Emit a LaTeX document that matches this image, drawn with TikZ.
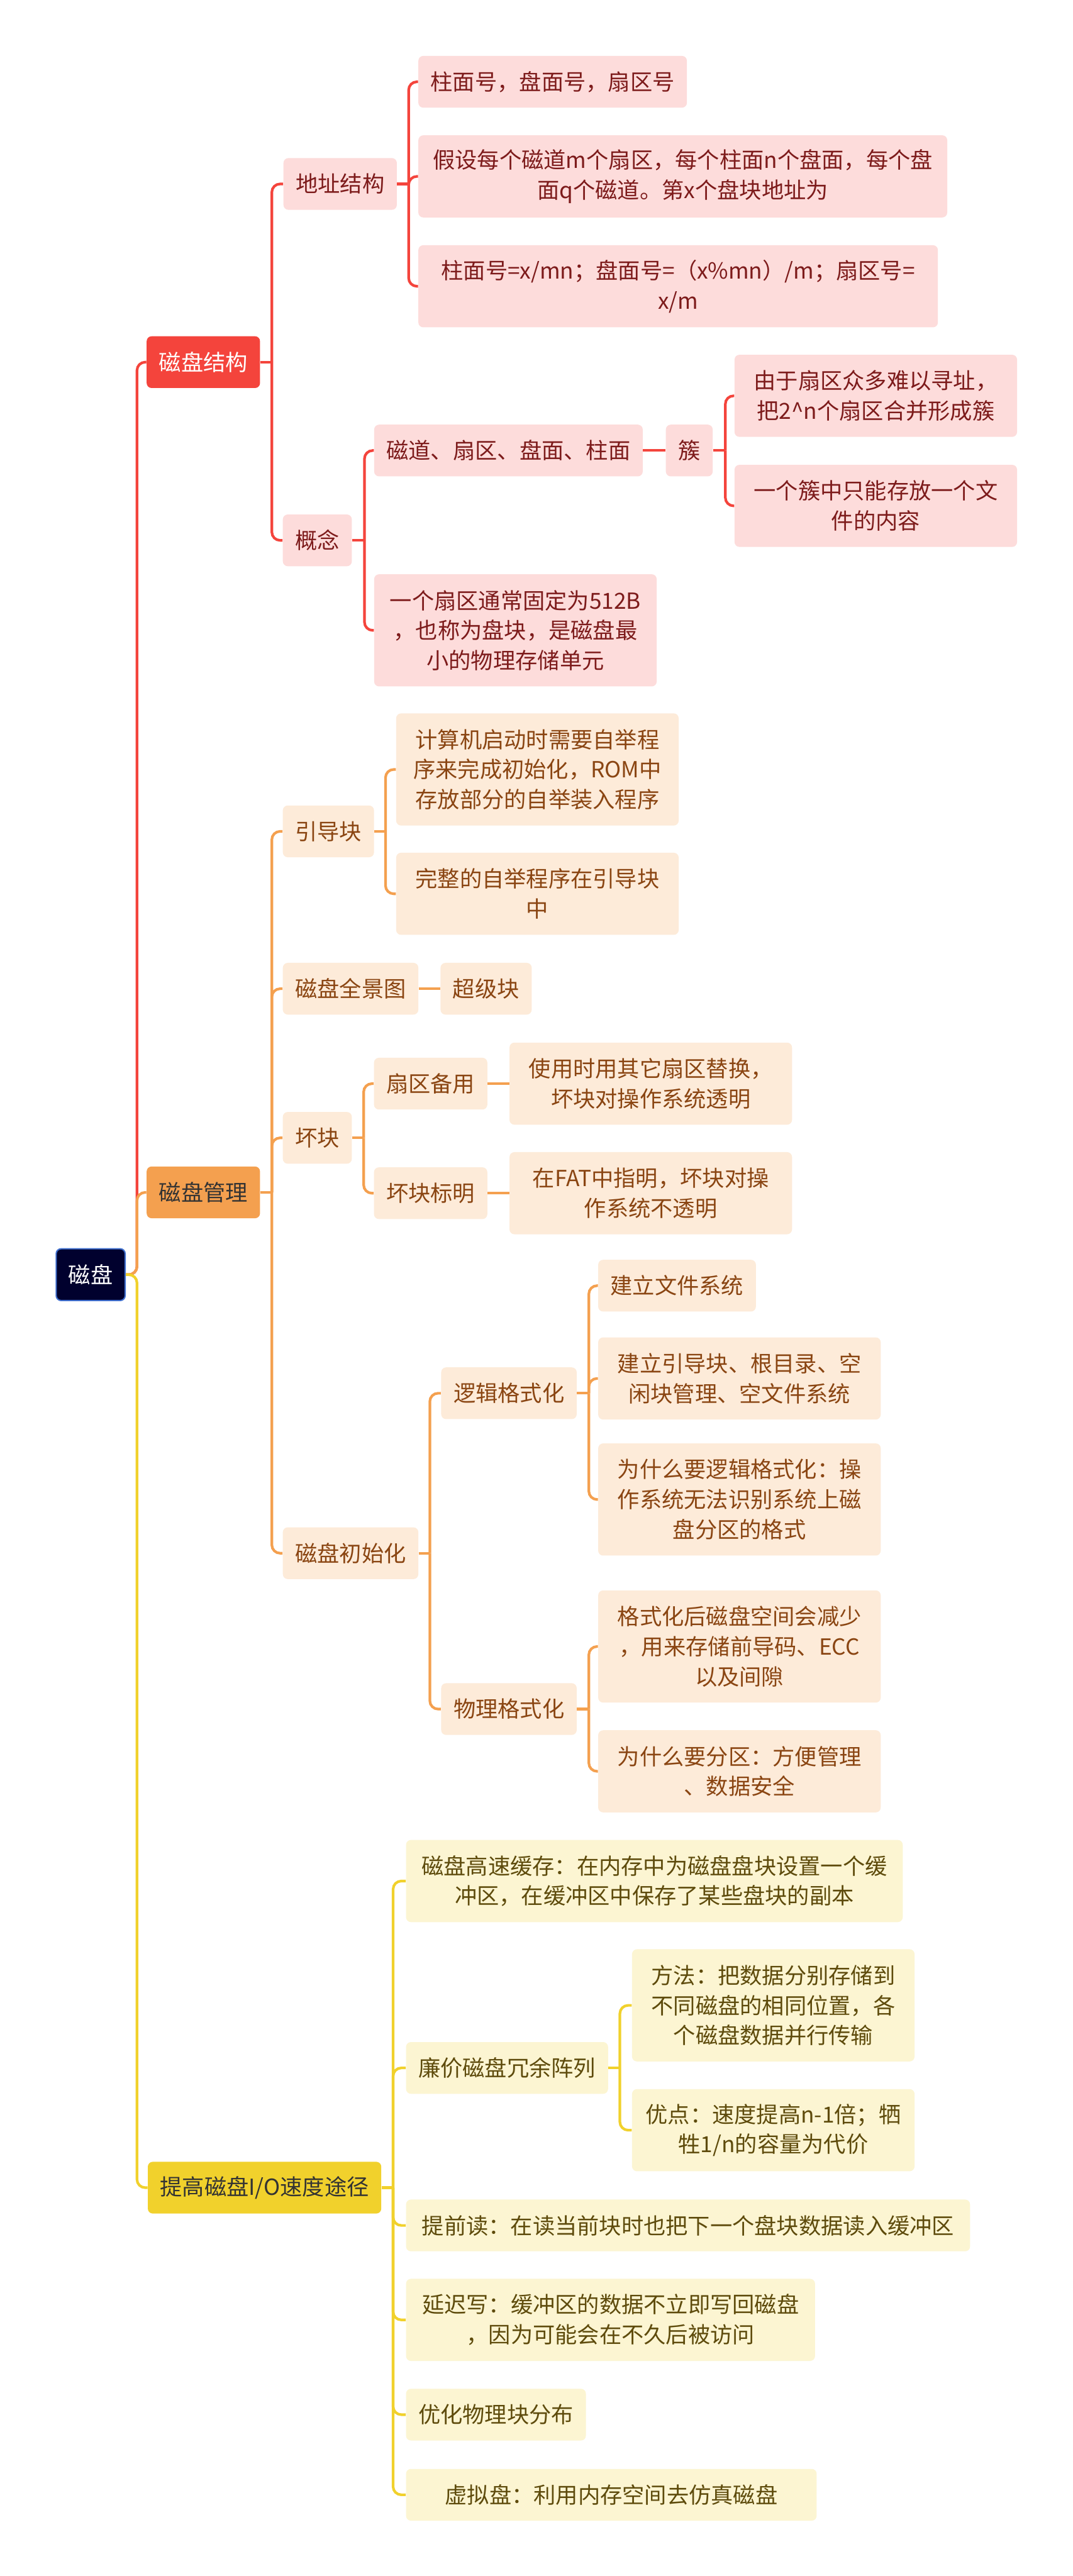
\documentclass[tikz,border=0pt]{standalone}
\usepackage{fontspec}
\setmainfont{Noto Sans CJK SC}
\definecolor{navyc}{HTML}{01012E}
\definecolor{rootblue}{HTML}{3F6FCF}
\definecolor{redc}{HTML}{F4443C}
\definecolor{orangec}{HTML}{F4A04F}
\definecolor{yellowc}{HTML}{F1D12C}
\definecolor{pinkc}{HTML}{FDDCDB}
\definecolor{peachc}{HTML}{FDEBD9}
\definecolor{creamc}{HTML}{FCF5D2}
\definecolor{redtxt}{HTML}{7D1B1B}
\definecolor{orangetxt}{HTML}{8A4512}
\definecolor{yellowtxt}{HTML}{5E4B0C}
\definecolor{darktxt}{HTML}{333333}
\begin{document}
\begin{tikzpicture}[x=1pt, y=-1pt, font=\fontsize{13.5}{18.3}\selectfont,
  box/.style={rounded corners=3pt, inner xsep=7.5pt, inner ysep=2pt,
    minimum height=31.5pt, align=center, anchor=west},
  twoline/.style={minimum height=50pt},
  threeline/.style={minimum height=68.3pt},
  rootbox/.style={box, fill=navyc, draw=rootblue, line width=0.8pt, text=white},
  mainred/.style={box, fill=redc, text=white},
  mainorange/.style={box, fill=orangec, text=darktxt},
  mainyellow/.style={box, fill=yellowc, text=darktxt},
  subred/.style={box, fill=pinkc, text=redtxt},
  suborange/.style={box, fill=peachc, text=orangetxt},
  subyellow/.style={box, fill=creamc, text=yellowtxt},
  ln/.style={line width=1.6pt, rounded corners=5pt},
  redln/.style={ln, draw=redc},
  orangeln/.style={ln, draw=orangec},
  yellowln/.style={ln, draw=yellowc}]
  \fill[white] (0,0) rectangle (653,1568.46);
  \useasboundingbox (0,0) rectangle (653,1568.46);

  % root and main branches
  \node[rootbox] (rt) at (33.8,776.1) {磁盘};
  \node[mainred] (st) at (89.1,220.5) {磁盘结构};
  \node[mainorange] (mg) at (89.1,726) {磁盘管理};
  \node[mainyellow] (io) at (89.8,1332) {提高磁盘I/O速度途径};

  % disk structure
  \node[subred] (addr) at (172.4,112) {地址结构};
  \node[subred] (conc) at (172,329) {概念};
  \node[subred] (a1) at (254.5,49.8) {柱面号，盘面号，扇区号};
  \node[subred, twoline, minimum width=322pt] (a2) at (254.5,107.4)
    {假设每个磁道m个扇区，每个柱面n个盘面，每个盘\\面q个磁道。第x个盘块地址为};
  \node[subred, twoline, minimum width=316.3pt] (a3) at (254.5,174.3)
    {柱面号=x/mn；盘面号=（x\%mn）/m；扇区号=\\x/m};
  \node[subred] (c1) at (227.6,274.3) {磁道、扇区、盘面、柱面};
  \node[subred, threeline, minimum width=172pt] (c2) at (227.6,383.8)
    {一个扇区通常固定为512B\\，也称为盘块，是磁盘最\\小的物理存储单元};
  \node[subred] (cu) at (405.2,274.3) {簇};
  \node[subred, twoline, minimum width=172pt] (u1) at (447,241)
    {由于扇区众多难以寻址，\\把2\textasciicircum{}n个扇区合并形成簇};
  \node[subred, twoline, minimum width=172pt] (u2) at (447,308)
    {一个簇中只能存放一个文\\件的内容};

  % disk management
  \node[suborange] (boot) at (172,506.2) {引导块};
  \node[suborange] (pano) at (172,602) {磁盘全景图};
  \node[suborange] (bad) at (172,692.8) {坏块};
  \node[suborange] (init) at (172,945.7) {磁盘初始化};
  \node[suborange, threeline, minimum width=172pt] (b1) at (241,468.5)
    {计算机启动时需要自举程\\序来完成初始化，ROM中\\存放部分的自举装入程序};
  \node[suborange, twoline, minimum width=172pt] (b2) at (241,544.2)
    {完整的自举程序在引导块\\中};
  \node[suborange] (sup) at (268,602) {超级块};
  \node[suborange] (bk1) at (227.5,659.8) {扇区备用};
  \node[suborange] (bk2) at (227.5,726.5) {坏块标明};
  \node[suborange, twoline, minimum width=172pt] (bk1a) at (310,659.8)
    {使用时用其它扇区替换，\\坏块对操作系统透明};
  \node[suborange, twoline, minimum width=172pt] (bk2a) at (310,726.5)
    {在FAT中指明，坏块对操\\作系统不透明};
  \node[suborange] (lf) at (268.4,848.3) {逻辑格式化};
  \node[suborange] (pf) at (268.4,1040.6) {物理格式化};
  \node[suborange] (l1) at (364,782.8) {建立文件系统};
  \node[suborange, twoline, minimum width=172pt] (l2) at (364,839.3)
    {建立引导块、根目录、空\\闲块管理、空文件系统};
  \node[suborange, threeline, minimum width=172pt] (l3) at (364,913)
    {为什么要逻辑格式化：操\\作系统无法识别系统上磁\\盘分区的格式};
  \node[suborange, threeline, minimum width=172pt] (p1) at (364,1002.5)
    {格式化后磁盘空间会减少\\，用来存储前导码、ECC\\以及间隙};
  \node[suborange, twoline, minimum width=172pt] (p2) at (364,1078.5)
    {为什么要分区：方便管理\\、数据安全};

  % I/O speed
  \node[subyellow, twoline, minimum width=302.4pt] (y1) at (247,1145.3)
    {磁盘高速缓存：在内存中为磁盘盘块设置一个缓\\冲区，在缓冲区中保存了某些盘块的副本};
  \node[subyellow] (y2) at (247,1259.1) {廉价磁盘冗余阵列};
  \node[subyellow, minimum width=343.4pt] (y3) at (247,1355)
    {提前读：在读当前块时也把下一个盘块数据读入缓冲区};
  \node[subyellow, twoline, minimum width=249pt] (y4) at (247,1412.5)
    {延迟写：缓冲区的数据不立即写回磁盘\\，因为可能会在不久后被访问};
  \node[subyellow] (y5) at (247,1470.2) {优化物理块分布};
  \node[subyellow, minimum width=250pt] (y6) at (247,1519)
    {虚拟盘：利用内存空间去仿真磁盘};
  \node[subyellow, threeline, minimum width=172pt] (r1) at (384.6,1221)
    {方法：把数据分别存储到\\不同磁盘的相同位置，各\\个磁盘数据并行传输};
  \node[subyellow, twoline, minimum width=172pt] (r2) at (384.6,1297)
    {优点：速度提高n-1倍；牺\\牲1/n的容量为代价};

  % connectors
  \coordinate (rt-s) at ([xshift=6.8pt]rt.east);
  \draw[redln] (rt.east) -- (rt-s) |- (st.west);
  \draw[orangeln] (rt.east) -- (rt-s) |- (mg.west);
  \draw[yellowln] (rt.east) -- (rt-s) |- (io.west);

  \coordinate (st-s) at ([xshift=7pt]st.east);
  \draw[redln] (st.east) -- (st-s);
  \foreach \c in {addr,conc} \draw[redln] (st-s) |- (\c.west);
  \coordinate (addr-s) at ([xshift=7pt]addr.east);
  \draw[redln] (addr.east) -- (addr-s);
  \foreach \c in {a1,a2,a3} \draw[redln] (addr-s) |- (\c.west);
  \coordinate (conc-s) at ([xshift=7.5pt]conc.east);
  \draw[redln] (conc.east) -- (conc-s);
  \foreach \c in {c1,c2} \draw[redln] (conc-s) |- (\c.west);
  \draw[redln] (c1.east) -- (cu.west);
  \coordinate (cu-s) at ([xshift=7.5pt]cu.east);
  \draw[redln] (cu.east) -- (cu-s);
  \foreach \c in {u1,u2} \draw[redln] (cu-s) |- (\c.west);

  \coordinate (mg-s) at ([xshift=7pt]mg.east);
  \draw[orangeln] (mg.east) -- (mg-s);
  \foreach \c in {boot,pano,bad,init} \draw[orangeln] (mg-s) |- (\c.west);
  \coordinate (boot-s) at ([xshift=6.8pt]boot.east);
  \draw[orangeln] (boot.east) -- (boot-s);
  \foreach \c in {b1,b2} \draw[orangeln] (boot-s) |- (\c.west);
  \draw[orangeln] (pano.east) -- (sup.west);
  \coordinate (bad-s) at ([xshift=7pt]bad.east);
  \draw[orangeln] (bad.east) -- (bad-s);
  \foreach \c in {bk1,bk2} \draw[orangeln] (bad-s) |- (\c.west);
  \draw[orangeln] (bk1.east) -- (bk1a.west);
  \draw[orangeln] (bk2.east) -- (bk2a.west);
  \coordinate (init-s) at ([xshift=6.8pt]init.east);
  \draw[orangeln] (init.east) -- (init-s);
  \foreach \c in {lf,pf} \draw[orangeln] (init-s) |- (\c.west);
  \coordinate (lf-s) at ([xshift=7.2pt]lf.east);
  \draw[orangeln] (lf.east) -- (lf-s);
  \foreach \c in {l1,l2,l3} \draw[orangeln] (lf-s) |- (\c.west);
  \coordinate (pf-s) at ([xshift=7.2pt]pf.east);
  \draw[orangeln] (pf.east) -- (pf-s);
  \foreach \c in {p1,p2} \draw[orangeln] (pf-s) |- (\c.west);

  \coordinate (io-s) at ([xshift=7pt]io.east);
  \draw[yellowln] (io.east) -- (io-s);
  \foreach \c in {y1,y2,y3,y4,y5,y6} \draw[yellowln] (io-s) |- (\c.west);
  \coordinate (y2-s) at ([xshift=7pt]y2.east);
  \draw[yellowln] (y2.east) -- (y2-s);
  \foreach \c in {r1,r2} \draw[yellowln] (y2-s) |- (\c.west);
\end{tikzpicture}
\end{document}
